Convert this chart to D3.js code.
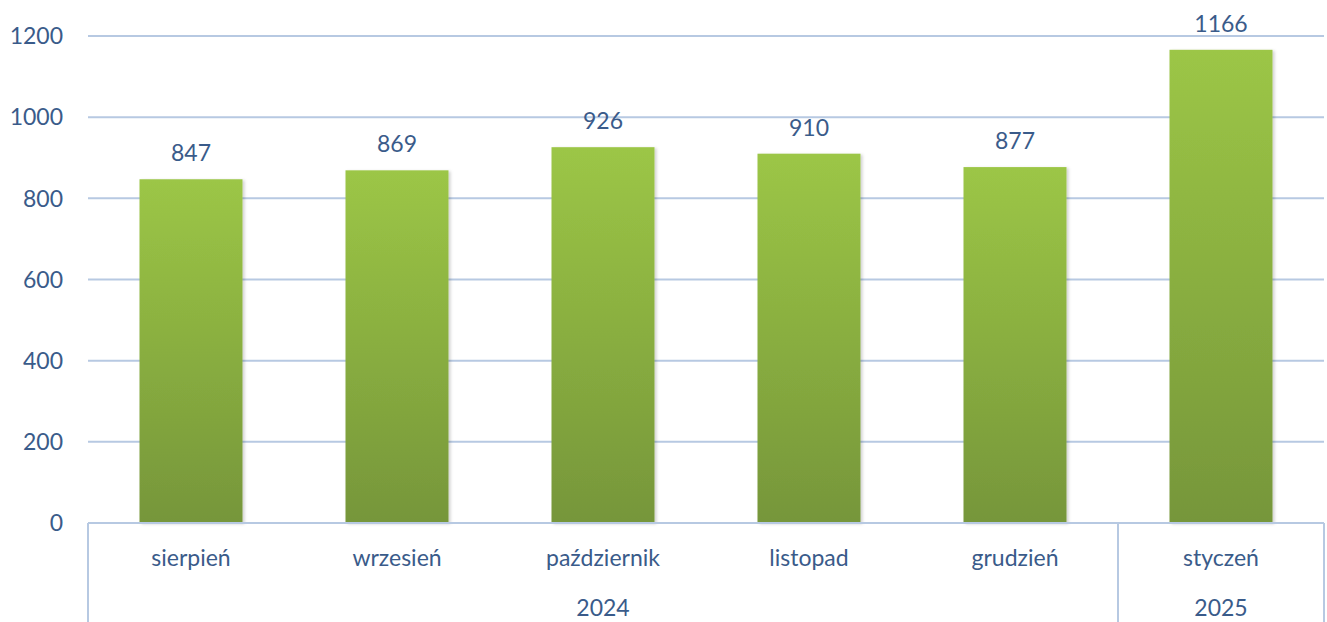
<!DOCTYPE html>
<html>
<head>
<meta charset="utf-8">
<script src="https://cdn.jsdelivr.net/npm/d3@7"></script>
<style>
  body { margin: 0; background: #fff; }
  svg text { font-family: Lato, "Open Sans", sans-serif; fill: #3A5B8A; }
</style>
</head>
<body>
<svg id="chart" width="1327" height="622"></svg>
<script>
// dane
var months = ["sierpień", "wrzesień", "październik", "listopad", "grudzień", "styczeń"];
var values = [847, 869, 926, 910, 877, 1166];
var years = ["2024", "2024", "2024", "2024", "2024", "2025"];
var yTicks = [0, 200, 400, 600, 800, 1000, 1200];

var svg = d3.select("#chart");
var plotLeft = 88, plotRight = 1324, plotTop = 36, plotBottom = 523;

var x = d3.scaleBand().domain(months).range([plotLeft, plotRight]).paddingInner(0.5).paddingOuter(0.25);
var y = d3.scaleLinear().domain([0, 1200]).range([plotBottom, plotTop]);

// gradient słupków
var defs = svg.append("defs");
var grad = defs.append("linearGradient")
    .attr("id", "barGrad").attr("x1", 0).attr("y1", 0).attr("x2", 0).attr("y2", 1);
grad.append("stop").attr("offset", "0%").attr("stop-color", "#9CC646");
grad.append("stop").attr("offset", "100%").attr("stop-color", "#76963A");

var filt = defs.append("filter").attr("id", "shadow")
    .attr("x", "-10%").attr("y", "-10%").attr("width", "130%").attr("height", "130%");
filt.append("feDropShadow").attr("dx", 2).attr("dy", 1).attr("stdDeviation", 1.5)
    .attr("flood-color", "#000").attr("flood-opacity", 0.18);

// linie siatki
svg.append("g").selectAll("line").data(yTicks.slice(1)).enter().append("line")
    .attr("x1", plotLeft).attr("x2", plotRight)
    .attr("y1", function(d) { return y(d); }).attr("y2", function(d) { return y(d); })
    .attr("stroke", "#B7C9E2").attr("stroke-width", 2);

// etykiety osi Y
svg.append("g").selectAll("text").data(yTicks).enter().append("text")
    .attr("x", 63).attr("y", function(d) { return y(d); })
    .attr("dy", "0.36em").attr("text-anchor", "end")
    .style("font-size", "23px")
    .text(function(d) { return d; });

// słupki
svg.append("g").selectAll("rect").data(values).enter().append("rect")
    .attr("x", function(d, i) { return x(months[i]); })
    .attr("width", x.bandwidth())
    .attr("y", function(d) { return y(d); })
    .attr("height", function(d) { return y(0) - y(d); })
    .attr("fill", "url(#barGrad)")
    .attr("filter", "url(#shadow)");

// etykiety wartości
svg.append("g").selectAll("text").data(values).enter().append("text")
    .attr("x", function(d, i) { return x(months[i]) + x.bandwidth() / 2; })
    .attr("y", function(d) { return y(d) - 18; })
    .attr("text-anchor", "middle")
    .style("font-size", "23px")
    .text(function(d) { return d; });

// oś kategorii
var axis = svg.append("g").attr("stroke", "#B7C9E2").attr("stroke-width", 2);
axis.append("line").attr("x1", plotLeft).attr("x2", plotRight).attr("y1", plotBottom).attr("y2", plotBottom);
axis.append("line").attr("x1", plotLeft).attr("x2", plotLeft).attr("y1", plotBottom).attr("y2", 622);
axis.append("line").attr("x1", plotRight).attr("x2", plotRight).attr("y1", plotBottom).attr("y2", 622);

var step = x.step();
// granice lat
var yearGroups = [];
years.forEach(function(yr, i) {
    var last = yearGroups[yearGroups.length - 1];
    if (last && last.year === yr) last.end = i;
    else yearGroups.push({ year: yr, start: i, end: i });
});
yearGroups.slice(1).forEach(function(g) {
    var bx = x(months[g.start]) - (step - x.bandwidth()) / 2;
    axis.append("line").attr("x1", bx).attr("x2", bx).attr("y1", plotBottom).attr("y2", 622);
});

svg.append("g").selectAll("text").data(months).enter().append("text")
    .attr("x", function(d) { return x(d) + x.bandwidth() / 2; })
    .attr("y", 566)
    .attr("text-anchor", "middle")
    .style("font-size", "23px")
    .text(function(d) { return d; });

svg.append("g").selectAll("text").data(yearGroups).enter().append("text")
    .attr("x", function(g) {
        var a = x(months[g.start]), b = x(months[g.end]) + x.bandwidth();
        return (a + b) / 2;
    })
    .attr("y", 616)
    .attr("text-anchor", "middle")
    .style("font-size", "23px")
    .text(function(g) { return g.year; });
</script>
</body>
</html>
